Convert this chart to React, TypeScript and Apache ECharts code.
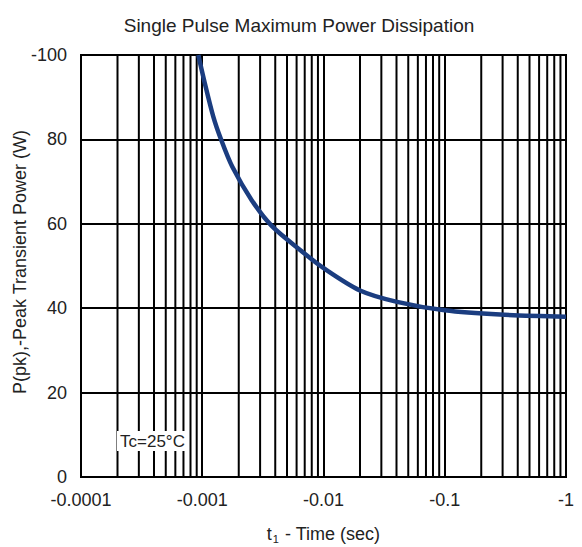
import React, { useEffect, useRef } from "react";
import * as echarts from "echarts";

const timeSec = [0.000928, 0.00105, 0.001233, 0.001428, 0.00177, 0.002557, 0.00374, 0.00661, 0.0099, 0.02, 0.0404, 0.1, 0.286, 1];
const powerW = [100, 93.3, 85.4, 80, 73.5, 65.6, 59.5, 53.5, 49.6, 44.2, 41.5, 39.5, 38.5, 38];
const xTickLabels = ["-0.0001", "-0.001", "-0.01", "-0.1", "-1"];
const yTickLabels = ["0", "20", "40", "60", "80", "-100"];
const decades = [0.0001, 0.001, 0.01, 0.1];
const minorMultipliers = [2, 3, 4, 5, 6, 7, 8, 9];

export default function App() {
  const ref = useRef<HTMLDivElement>(null);
  useEffect(() => {
    if (!ref.current) return;
    const chart = echarts.init(ref.current, null, { renderer: "svg" });
    const minorLines: number[][] = [];
    decades.forEach((d) => minorMultipliers.forEach((m) => minorLines.push([m * d])));
    const font = "Liberation Sans, Arial, sans-serif";
    chart.setOption({
      animation: false,
      backgroundColor: "#fff",
      title: {
        text: "Single Pulse Maximum Power Dissipation",
        left: 294,
        top: 11,
        textAlign: "center",
        textStyle: { fontFamily: font, fontSize: 19, fontWeight: "normal", color: "#222" },
      },
      grid: {
        left: 81,
        right: 16,
        top: 55,
        bottom: 70,
        show: true,
        borderColor: "#000",
        borderWidth: 2,
        containLabel: false,
        outerBoundsMode: "none",
      },
      xAxis: {
        type: "log",
        logBase: 10,
        min: 0.0001,
        max: 1,
        name: "{t|t}{s|1}{n| - Time (sec)}",
        nameLocation: "middle",
        nameGap: 47,
        nameMoveOverlap: false,
        nameTextStyle: {
          rich: {
            t: { fontFamily: font, fontSize: 18, color: "#222" },
            s: { fontFamily: font, fontSize: 11, color: "#222", verticalAlign: "bottom", padding: [9, 1, 0, 1] },
            n: { fontFamily: font, fontSize: 18, color: "#222" },
          },
        },
        axisLine: { show: true, lineStyle: { color: "#000", width: 2 } },
        axisTick: { show: false },
        axisLabel: {
          fontFamily: font,
          fontSize: 18,
          color: "#222",
          margin: 14,
          formatter: (_v: number, i: number) => xTickLabels[i] ?? "",
        },
        splitLine: { show: true, lineStyle: { color: "#000", width: 2 } },
      },
      yAxis: {
        type: "value",
        min: 0,
        max: 100,
        interval: 20,
        axisLine: { show: true, lineStyle: { color: "#000", width: 2 } },
        axisTick: { show: false },
        axisLabel: {
          fontFamily: font,
          fontSize: 18,
          color: "#222",
          margin: 14,
          formatter: (_v: number, i: number) => yTickLabels[i] ?? "",
        },
        splitLine: { show: true, lineStyle: { color: "#000", width: 2 } },
      },
      series: [
        {
          type: "custom",
          z: 1,
          silent: true,
          clip: true,
          data: minorLines,
          renderItem: (_p: any, api: any) => {
            const v = api.value(0);
            const top = api.coord([v, 100]);
            const bottom = api.coord([v, 0]);
            return {
              type: "line",
              shape: { x1: top[0], y1: top[1], x2: bottom[0], y2: bottom[1] },
              style: { stroke: "#000", lineWidth: 2 },
            };
          },
        },
        {
          type: "line",
          z: 5,
          smooth: 0.3,
          symbol: "none",
          lineStyle: { color: "#1b3d80", width: 4.5 },
          data: timeSec.map((t, i) => [t, powerW[i]]),
        },
      ],
      graphic: [
        {
          type: "text",
          x: 20,
          y: 262,
          rotation: Math.PI / 2,
          z: 10,
          style: {
            text: "P(pk),-Peak Transient Power (W)",
            fontFamily: font,
            fontSize: 18,
            fill: "#222",
            align: "center",
            verticalAlign: "middle",
          },
        },
        {
          type: "text",
          left: 117,
          top: 431,
          z: 10,
          style: {
            text: "Tc=25°C",
            fontFamily: font,
            fontSize: 17,
            fill: "#222",
            backgroundColor: "#fff",
            padding: [2, 3, 1, 3],
          },
        },
      ],
    });
    return () => chart.dispose();
  }, []);
  return <div ref={ref} style={{ position: "fixed", left: 0, top: 0, width: 582, height: 547 }} />;
}
